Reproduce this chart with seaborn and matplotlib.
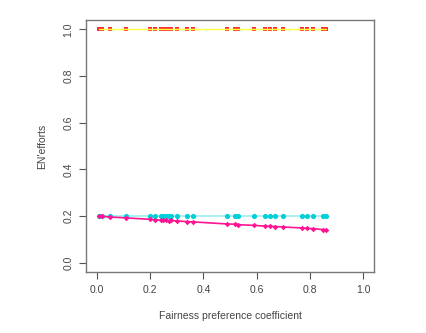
"""Fairness preference vs EN efforts"""
import matplotlib
matplotlib.use('Agg')
import matplotlib.pyplot as plt
import seaborn as sns
import pandas as pd

# values
fairness = [0.01, 0.02, 0.05, 0.11, 0.20, 0.22, 0.24, 0.25, 0.26, 0.27,
            0.28, 0.30, 0.34, 0.36, 0.49, 0.52, 0.53, 0.59, 0.63, 0.65,
            0.67, 0.70, 0.77, 0.79, 0.81, 0.85, 0.86]
top_effort = [1.0] * len(fairness)
mid_effort = [0.2] * len(fairness)
low_effort = [0.200, 0.199, 0.196, 0.192, 0.186, 0.184, 0.182, 0.183, 0.181, 0.180,
              0.181, 0.179, 0.176, 0.175, 0.166, 0.165, 0.163, 0.160, 0.157, 0.156,
              0.155, 0.153, 0.149, 0.147, 0.146, 0.142, 0.141]

df = pd.DataFrame({'x': fairness, 'top': top_effort, 'mid': mid_effort, 'low': low_effort})

sns.set_style('white')
plt.rcParams['font.family'] = ['Liberation Sans', 'DejaVu Sans']

fig = plt.figure(figsize=(4.26, 3.33), dpi=100)
ax = fig.add_axes([0.202, 0.183, 0.676, 0.757])

# top series: red points with yellow line
sns.scatterplot(data=df, x='x', y='top', ax=ax, marker='s', s=9, color='#ff3030',
                linewidth=0, zorder=3)
sns.lineplot(data=df, x='x', y='top', ax=ax, color='#ffff40', linewidth=1.0, zorder=4)

# middle series: cyan
sns.lineplot(data=df, x='x', y='mid', ax=ax, color='#9eeeee', linewidth=1.2, zorder=2)
sns.scatterplot(data=df, x='x', y='mid', ax=ax, marker='o', s=14, color='#00d0d8',
                linewidth=0, zorder=3)

# bottom series: pink
sns.lineplot(data=df, x='x', y='low', ax=ax, color='#ff1493', linewidth=1.2, zorder=4)
sns.scatterplot(data=df, x='x', y='low', ax=ax, marker='D', s=8, color='#ff1493',
                linewidth=0, zorder=5)

ax.set_xlim(-0.04, 1.04)
ax.set_ylim(-0.04, 1.04)
ticks = [0.0, 0.2, 0.4, 0.6, 0.8, 1.0]
ax.set_xticks(ticks)
ax.set_yticks(ticks)
ax.set_xticklabels(['0.0', '0.2', '0.4', '0.6', '0.8', '1.0'])
ax.set_yticklabels(['0.0', '0.2', '0.4', '0.6', '0.8', '1.0'], rotation=90, va='center')
ax.tick_params(axis='both', direction='out', length=5, width=0.8, color='#555555',
               labelsize=7.5, labelcolor='#444444', pad=4, left=True, bottom=True)
for s in ax.spines.values():
    s.set_color('#777777')
    s.set_linewidth(1.0)

ax.set_xlabel('Fairness preference coefficient', fontsize=7.5, color='#444444', labelpad=12)
ax.set_ylabel("EN'efforts", fontsize=7.5, color='#444444', labelpad=12)

fig.savefig('out.png', dpi=100)
